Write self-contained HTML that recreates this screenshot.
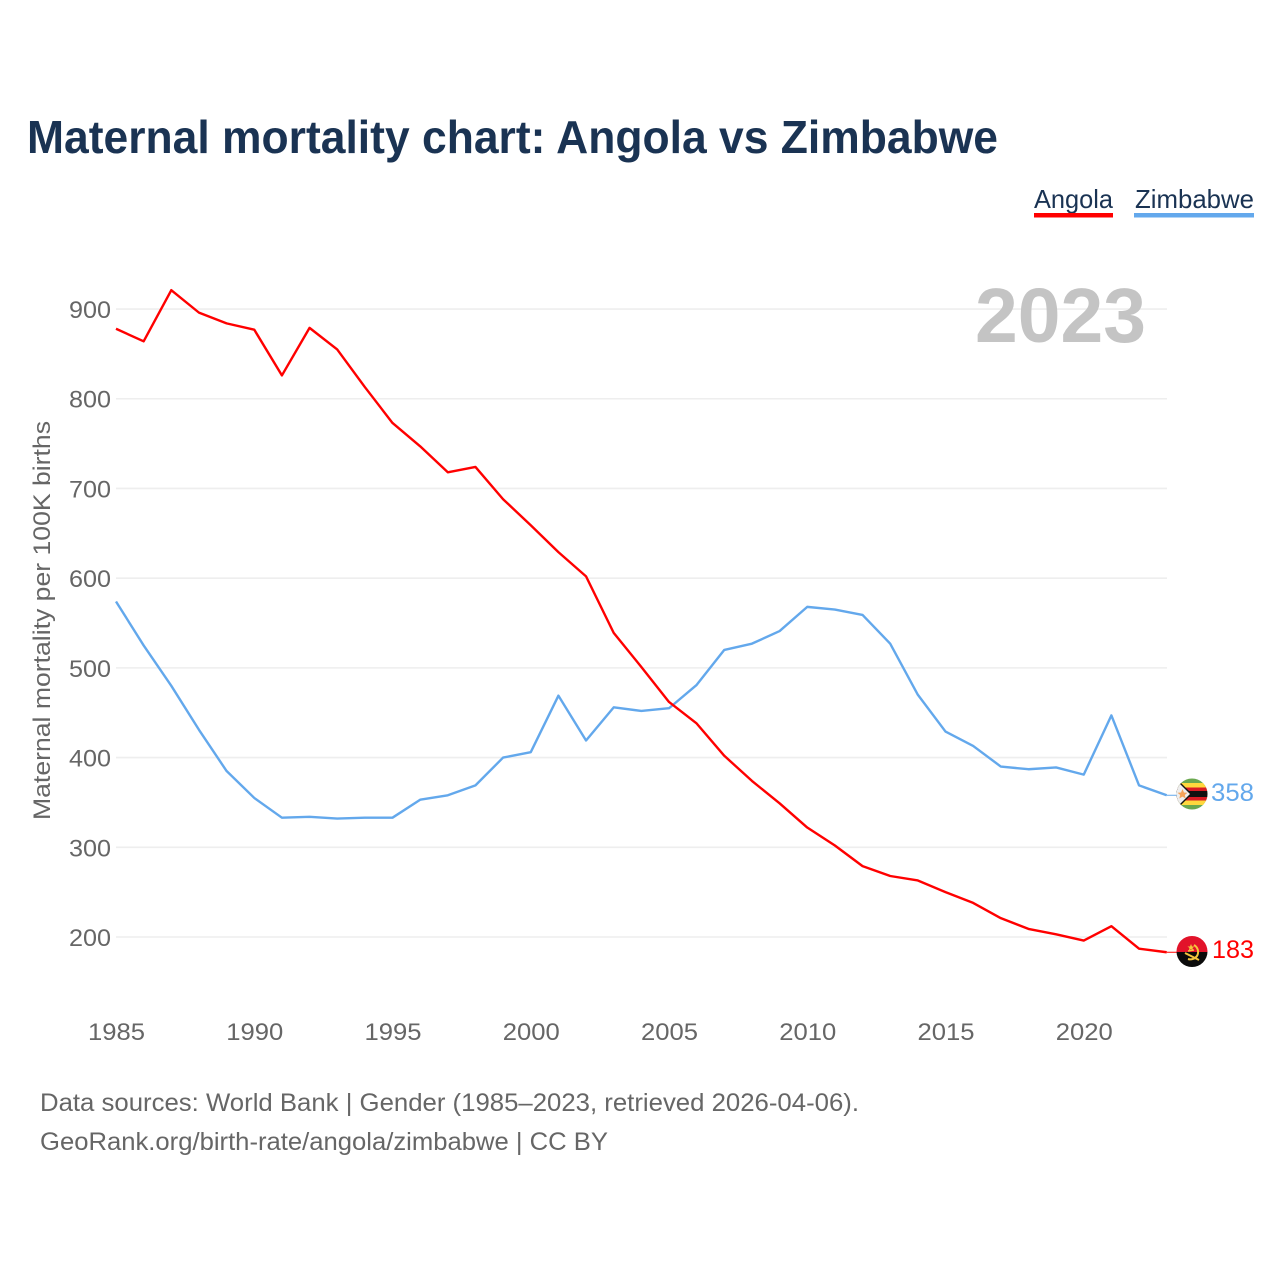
<!DOCTYPE html>
<html lang="en">
<head>
<meta charset="utf-8">
<title>Maternal mortality chart: Angola vs Zimbabwe</title>
<style>
html,body{margin:0;padding:0;background:#fff;}
svg{display:block;font-family:"Liberation Sans",sans-serif;}
</style>
</head>
<body>
<svg id="chart" xmlns="http://www.w3.org/2000/svg" width="1280" height="1280" viewBox="0 0 1280 1280">
  <defs>
    <clipPath id="zw-clip"><circle cx="1192" cy="794" r="15.5"/></clipPath>
    <clipPath id="ao-clip"><circle cx="1192" cy="951.5" r="15.5"/></clipPath>
  </defs>
  <rect width="1280" height="1280" fill="#ffffff"/>
  <text x="27" y="153" font-size="46" font-weight="700" fill="#1a3353" textLength="971" lengthAdjust="spacingAndGlyphs">Maternal mortality chart: Angola vs Zimbabwe</text>

  <g>
    <g>
      <text x="1034" y="208" font-size="26" fill="#1a3353" textLength="79" lengthAdjust="spacingAndGlyphs">Angola</text>
      <rect x="1034" y="213" width="79" height="4.5" fill="#ff0000"/>
    </g>
    <g>
      <text x="1135" y="208" font-size="26" fill="#1a3353" textLength="119" lengthAdjust="spacingAndGlyphs">Zimbabwe</text>
      <rect x="1134" y="213" width="120" height="4.5" fill="#63a8ec"/>
    </g>
  </g>

  <g id="grid"></g>
  <g id="y-ticks"></g>
  <g id="x-ticks"></g>

  <text x="975" y="342" font-size="77" font-weight="700" fill="#c4c4c4" textLength="171" lengthAdjust="spacingAndGlyphs">2023</text>

  <text transform="translate(50,820) rotate(-90)" x="0" y="0" font-size="24" fill="#666666" textLength="399" lengthAdjust="spacingAndGlyphs">Maternal mortality per 100K births</text>

  <g id="series"></g>

  <g clip-path="url(#zw-clip)">
    <rect x="1176" y="778" width="32" height="32" fill="#6aa84f"/>
    <rect x="1176" y="783" width="32" height="4.5" fill="#ffd83d"/>
    <rect x="1176" y="787.5" width="32" height="3.5" fill="#d91c24"/>
    <rect x="1176" y="791" width="32" height="6" fill="#111111"/>
    <rect x="1176" y="797" width="32" height="3.5" fill="#d91c24"/>
    <rect x="1176" y="800.5" width="32" height="4.5" fill="#ffd83d"/>
    <polygon points="1176,778 1176,810 1192,794" fill="#111111"/>
    <polygon points="1176,780 1176,808 1190,794" fill="#eeeeee"/>
    <polygon points="1182.5,789 1184,792.5 1187.5,792.8 1184.8,795 1185.7,798.5 1182.5,796.6 1179.3,798.5 1180.2,795 1177.5,792.8 1181,792.5" fill="#f4a259"/>
  </g>
  <g clip-path="url(#ao-clip)">
    <rect x="1176" y="936" width="32" height="16" fill="#e2132a"/>
    <rect x="1176" y="952" width="32" height="16" fill="#0b0b0b"/>
    <path d="M1194 945 a8 8 0 0 1 3 11 a8 8 0 0 1 -9 3" fill="none" stroke="#f5c63c" stroke-width="2"/>
    <path d="M1185 953 L1199 960" fill="none" stroke="#f5c63c" stroke-width="2"/>
    <path d="M1188 951 L1194 950" fill="none" stroke="#f5c63c" stroke-width="1.5"/>
    <polygon points="1191,944 1192,946.5 1194.5,946.5 1192.5,948 1193.2,950.5 1191,949 1188.8,950.5 1189.5,948 1187.5,946.5 1190,946.5" fill="#f5c63c"/>
  </g>
  <text x="1211" y="801" font-size="25" fill="#63a8ec" textLength="43" lengthAdjust="spacingAndGlyphs">358</text>
  <text x="1212" y="958" font-size="25" fill="#ff0000" textLength="42" lengthAdjust="spacingAndGlyphs">183</text>

  <text x="40" y="1111" font-size="25" fill="#666666" textLength="819" lengthAdjust="spacingAndGlyphs">Data sources: World Bank | Gender (1985–2023, retrieved 2026-04-06).</text>
  <text x="40" y="1150" font-size="25" fill="#666666" textLength="568" lengthAdjust="spacingAndGlyphs">GeoRank.org/birth-rate/angola/zimbabwe | CC BY</text>
</svg>
<script>
const years = [1985,1986,1987,1988,1989,1990,1991,1992,1993,1994,1995,1996,1997,1998,1999,2000,2001,2002,2003,2004,2005,2006,2007,2008,2009,2010,2011,2012,2013,2014,2015,2016,2017,2018,2019,2020,2021,2022,2023];
const angola = [878,864,921,896,884,877,826,879,855,813,773,747,718,724,688,659,629,602,539,501,462,438,402,374,349,322,302,279,268,263,250,238,221,209,203,196,212,187,183];
const zimbabwe = [574,525,480,431,385,355,333,334,332,333,333,353,358,369,400,406,469,419,456,452,455,481,520,527,541,568,565,559,527,470,429,413,390,387,389,381,447,369,358];
const yTickValues = [200,300,400,500,600,700,800,900];
const xTickValues = [1985,1990,1995,2000,2005,2010,2015,2020];

const NS = 'http://www.w3.org/2000/svg';
const xScale = function (year) { return 116 + (year - 1985) * 27.65; };
const yScale = function (value) { return 937 - (value - 200) * 0.8971; };

const grid = document.getElementById('grid');
const yTicks = document.getElementById('y-ticks');
const xTicks = document.getElementById('x-ticks');
const seriesGroup = document.getElementById('series');

yTickValues.forEach(function (v) {
  const line = document.createElementNS(NS, 'line');
  
  
  line.setAttribute('x1', 116);
  line.setAttribute('x2', 1167);
  line.setAttribute('y1', yScale(v));
  line.setAttribute('y2', yScale(v));
  line.setAttribute('stroke', '#eeeeee');
  line.setAttribute('stroke-width', '1.6');
  grid.appendChild(line);

  const label = document.createElementNS(NS, 'text');
  
  
  label.setAttribute('x', 69);
  label.setAttribute('y', yScale(v) + 9);
  label.setAttribute('font-size', '24');
  label.setAttribute('fill', '#666666');
  label.setAttribute('textLength', '42');
  label.setAttribute('lengthAdjust', 'spacingAndGlyphs');
  label.textContent = String(v);
  yTicks.appendChild(label);
});

xTickValues.forEach(function (year) {
  const label = document.createElementNS(NS, 'text');
  
  
  label.setAttribute('x', xScale(year) - 28);
  label.setAttribute('y', 1040);
  label.setAttribute('font-size', '24');
  label.setAttribute('fill', '#666666');
  label.setAttribute('textLength', '57');
  label.setAttribute('lengthAdjust', 'spacingAndGlyphs');
  label.textContent = String(year);
  xTicks.appendChild(label);
});

function pathFor(values) {
  return values.map(function (v, i) {
    return (i === 0 ? 'M' : 'L') + xScale(years[i]).toFixed(2) + ' ' + yScale(v).toFixed(2);
  }).join(' ');
}

const zimbabweLine = document.createElementNS(NS, 'path');


zimbabweLine.setAttribute('d', pathFor(zimbabwe));
zimbabweLine.setAttribute('fill', 'none');
zimbabweLine.setAttribute('stroke', '#63a8ec');
zimbabweLine.setAttribute('stroke-width', '2.4');
zimbabweLine.setAttribute('stroke-linejoin', 'round');
seriesGroup.appendChild(zimbabweLine);

const angolaLine = document.createElementNS(NS, 'path');


angolaLine.setAttribute('d', pathFor(angola));
angolaLine.setAttribute('fill', 'none');
angolaLine.setAttribute('stroke', '#ff0000');
angolaLine.setAttribute('stroke-width', '2.4');
angolaLine.setAttribute('stroke-linejoin', 'round');
seriesGroup.appendChild(angolaLine);

const lastX = xScale(years[years.length - 1]);

const zimbabweConnector = document.createElementNS(NS, 'line');


zimbabweConnector.setAttribute('x1', lastX);
zimbabweConnector.setAttribute('x2', lastX + 12);
zimbabweConnector.setAttribute('y1', yScale(zimbabwe[zimbabwe.length - 1]));
zimbabweConnector.setAttribute('y2', yScale(zimbabwe[zimbabwe.length - 1]));
zimbabweConnector.setAttribute('stroke', '#63a8ec');
zimbabweConnector.setAttribute('stroke-width', '1');
seriesGroup.appendChild(zimbabweConnector);

const angolaConnector = document.createElementNS(NS, 'line');


angolaConnector.setAttribute('x1', lastX);
angolaConnector.setAttribute('x2', lastX + 12);
angolaConnector.setAttribute('y1', yScale(angola[angola.length - 1]));
angolaConnector.setAttribute('y2', yScale(angola[angola.length - 1]));
angolaConnector.setAttribute('stroke', '#ff0000');
angolaConnector.setAttribute('stroke-width', '1');
seriesGroup.appendChild(angolaConnector);
</script>
</body>
</html>
